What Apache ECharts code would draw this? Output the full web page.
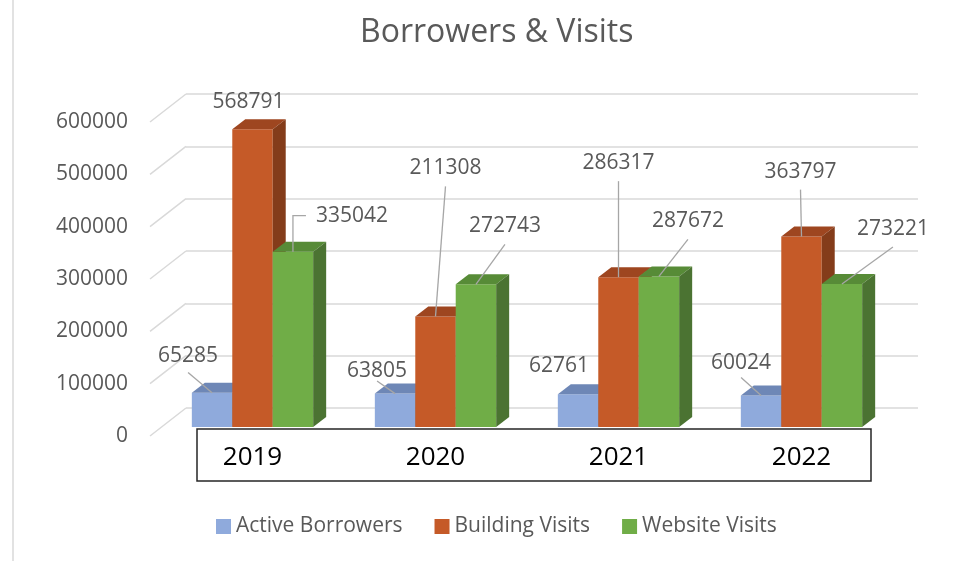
<!DOCTYPE html>
<html>
<head>
<meta charset="utf-8">
<script src="https://cdn.jsdelivr.net/npm/echarts/dist/echarts.min.js"></script>
<style>
  html, body { margin: 0; padding: 0; background: #fff; }
  #chart { width: 973px; height: 561px; }
</style>
</head>
<body>
<div id="chart"></div>
<script>
    const years = ['2019', '2020', '2021', '2022'];
    const activeBorrowers = [65285, 63805, 62761, 60024];
    const buildingVisits = [568791, 211308, 286317, 363797];
    const websiteVisits = [335042, 272743, 287672, 273221];
    const yTicks = [0, 100000, 200000, 300000, 400000, 500000, 600000];

    const seriesNames = ['Active Borrowers', 'Building Visits', 'Website Visits'];
    const seriesValues = [activeBorrowers, buildingVisits, websiteVisits];

    // front / top / side shades of each 3d bar
    const shades = [
        { front: '#8faadc', top: '#6e87b6', side: '#5d749f' },
        { front: '#c55a28', top: '#9e4620', side: '#843c1a' },
        { front: '#70ad47', top: '#578b37', side: '#4b7332' }
    ];

    // label position relative to the bar's front-top centre: [dx, dy, leader]
    // leader: 0 none, 1 straight, 2 elbow from the left side
    const labelPos = [
        [[-24, -37, 1], [-18, -23, 1], [-19, -28, 0], [-20, -33, 1]],
        [[-4, -27, 0], [10, -148, 1], [0, -114, 1], [-1, -65, 1]],
        [[59, -36, 2], [29, -58, 1], [29, -55, 1], [51, -55, 1]]
    ];

    const DEPTH_X = 13;
    const DEPTH_Y = 10;
    const BAR_RATIO = 0.221;
    const FONT = '"Open Sans", "Liberation Sans", sans-serif';
    const GREY = '#595959';

    const renderBar = (si) => (params, api) => {
        const ci = api.value(0);
        const top = api.coord([ci, api.value(1)]);
        const base = api.coord([ci, 0]);
        const bw = api.size([1, 0])[0] * BAR_RATIO;
        const x0 = top[0] + (si - 1.5) * bw;
        const x1 = x0 + bw;
        const ty = top[1];
        const by = base[1];
        const c = shades[si];
        return {
            type: 'group',
            children: [{
                type: 'rect',
                shape: { x: x0, y: ty, width: bw, height: by - ty },
                style: { fill: c.front }
            }, {
                type: 'polygon',
                shape: { points: [[x0, ty], [x1, ty], [x1 + DEPTH_X, ty - DEPTH_Y], [x0 + DEPTH_X, ty - DEPTH_Y]] },
                style: { fill: c.top }
            }, {
                type: 'polygon',
                shape: { points: [[x1, ty], [x1 + DEPTH_X, ty - DEPTH_Y], [x1 + DEPTH_X, by - DEPTH_Y], [x1, by]] },
                style: { fill: c.side }
            }]
        };
    };

    const renderLabel = (params, api) => {
        const ci = api.value(0);
        const v = api.value(1);
        const si = api.value(2);
        const top = api.coord([ci, v]);
        const bw = api.size([1, 0])[0] * BAR_RATIO;
        const ax = top[0] + (si - 1) * bw;
        const ay = top[1];
        const p = labelPos[si][ci];
        const lx = ax + p[0];
        const ly = ay + p[1];
        const text = String(v);
        const children = [{
            type: 'text',
            style: {
                x: lx, y: ly, text,
                align: 'center', verticalAlign: 'middle',
                fontSize: 21, fontFamily: FONT, fill: GREY
            }
        }];
        let pts = null;
        if (p[2] === 1) {
            pts = [[lx, ly + Math.min(18, 0.45 * (ay - ly))], [ax, ay]];
        } else if (p[2] === 2) {
            const halfW = text.length * 6;
            pts = [[lx - halfW - 10, ly], [ax, ly], [ax, ay]];
        }
        if (pts) {
            children.push({
                type: 'polyline',
                shape: { points: pts },
                style: { stroke: '#a6a6a6', lineWidth: 1.3, fill: null }
            });
        }
        return { type: 'group', children };
    };

    // slanted floor lines joining the label plane to the back wall
    const renderDiag = (params, api) => {
        const p = api.coord([0, api.value(0)]);
        const x = params.coordSys.x;
        return {
            type: 'line',
            shape: { x1: x, y1: p[1], x2: x + 36, y2: p[1] - 28 },
            style: { stroke: '#d9d9d9', lineWidth: 1.5 }
        };
    };

    const labelData = [];
    seriesValues.forEach((arr, si) => {
        arr.forEach((v, ci) => labelData.push([ci, v, si]));
    });

    const hiddenCat = (gridIndex) => ({
        type: 'category', gridIndex, data: years,
        axisLine: { show: false }, axisTick: { show: false }, axisLabel: { show: false }
    });
    const valueAxis = (gridIndex, extra) => Object.assign({
        type: 'value', gridIndex, min: 0, max: 600000, interval: 100000,
        axisLine: { show: false }, axisTick: { show: false },
        axisLabel: { show: false }, splitLine: { show: false }
    }, extra);

    const option = {
        animation: false,
        title: {
            text: 'Borrowers & Visits',
            left: 355,
            top: 12,
            textStyle: { fontSize: 32, fontWeight: 'normal', color: GREY, fontFamily: FONT }
        },
        legend: {
            data: seriesNames,
            left: 211,
            top: 511,
            icon: 'rect',
            itemWidth: 15,
            itemHeight: 15,
            itemGap: 32,
            textStyle: { fontSize: 21, color: GREY, fontFamily: FONT }
        },
        grid: [
            // bars' front plane
            { left: 161, top: 113, width: 732, height: 314, outerBoundsMode: 'none', containLabel: false },
            // label plane (front of floor)
            { left: 150, top: 122, width: 732, height: 314, outerBoundsMode: 'none', containLabel: false },
            // back wall
            { left: 186, top: 94, width: 732, height: 314, outerBoundsMode: 'none', containLabel: false }
        ],
        xAxis: [{
            type: 'category',
            gridIndex: 0,
            data: years,
            axisLine: { show: false },
            axisTick: { show: false },
            axisLabel: {
                margin: 31,
                verticalAlign: 'middle',
                fontSize: 26,
                color: '#000',
                fontFamily: FONT
            }
        }, hiddenCat(1), hiddenCat(2)],
        yAxis: [
            valueAxis(0),
            valueAxis(1, {
                axisLabel: {
                    show: true, margin: 22, fontSize: 21, color: GREY, fontFamily: FONT,
                    formatter: v => String(v)
                }
            }),
            valueAxis(2, { splitLine: { show: true, lineStyle: { color: '#d9d9d9', width: 1.5 } } })
        ],
        graphic: [{
            type: 'line',
            shape: { x1: 13, y1: 0, x2: 13, y2: 561 },
            style: { stroke: '#d9d9d9', lineWidth: 1.5 }
        }, {
            type: 'rect',
            shape: { x: 197, y: 429, width: 674, height: 52 },
            style: { fill: null, stroke: '#262626', lineWidth: 1.5 }
        }],
        series: [{
            type: 'custom',
            name: 'floor',
            xAxisIndex: 1,
            yAxisIndex: 1,
            silent: true,
            data: yTicks.map(t => [t]),
            encode: { y: 0 },
            renderItem: renderDiag
        }].concat(seriesNames.map((name, si) => ({
            type: 'custom',
            name,
            xAxisIndex: 0,
            yAxisIndex: 0,
            itemStyle: { color: shades[si].front },
            data: seriesValues[si].map((v, ci) => [ci, v]),
            encode: { x: 0, y: 1 },
            renderItem: renderBar(si)
        }))).concat([{
            type: 'custom',
            name: 'labels',
            xAxisIndex: 0,
            yAxisIndex: 0,
            silent: true,
            z: 5,
            data: labelData,
            encode: { x: 0, y: 1 },
            renderItem: renderLabel
        }])
    };

    const myChart = echarts.init(document.getElementById('chart'));
    myChart.setOption(option);
</script>
</body>
</html>
